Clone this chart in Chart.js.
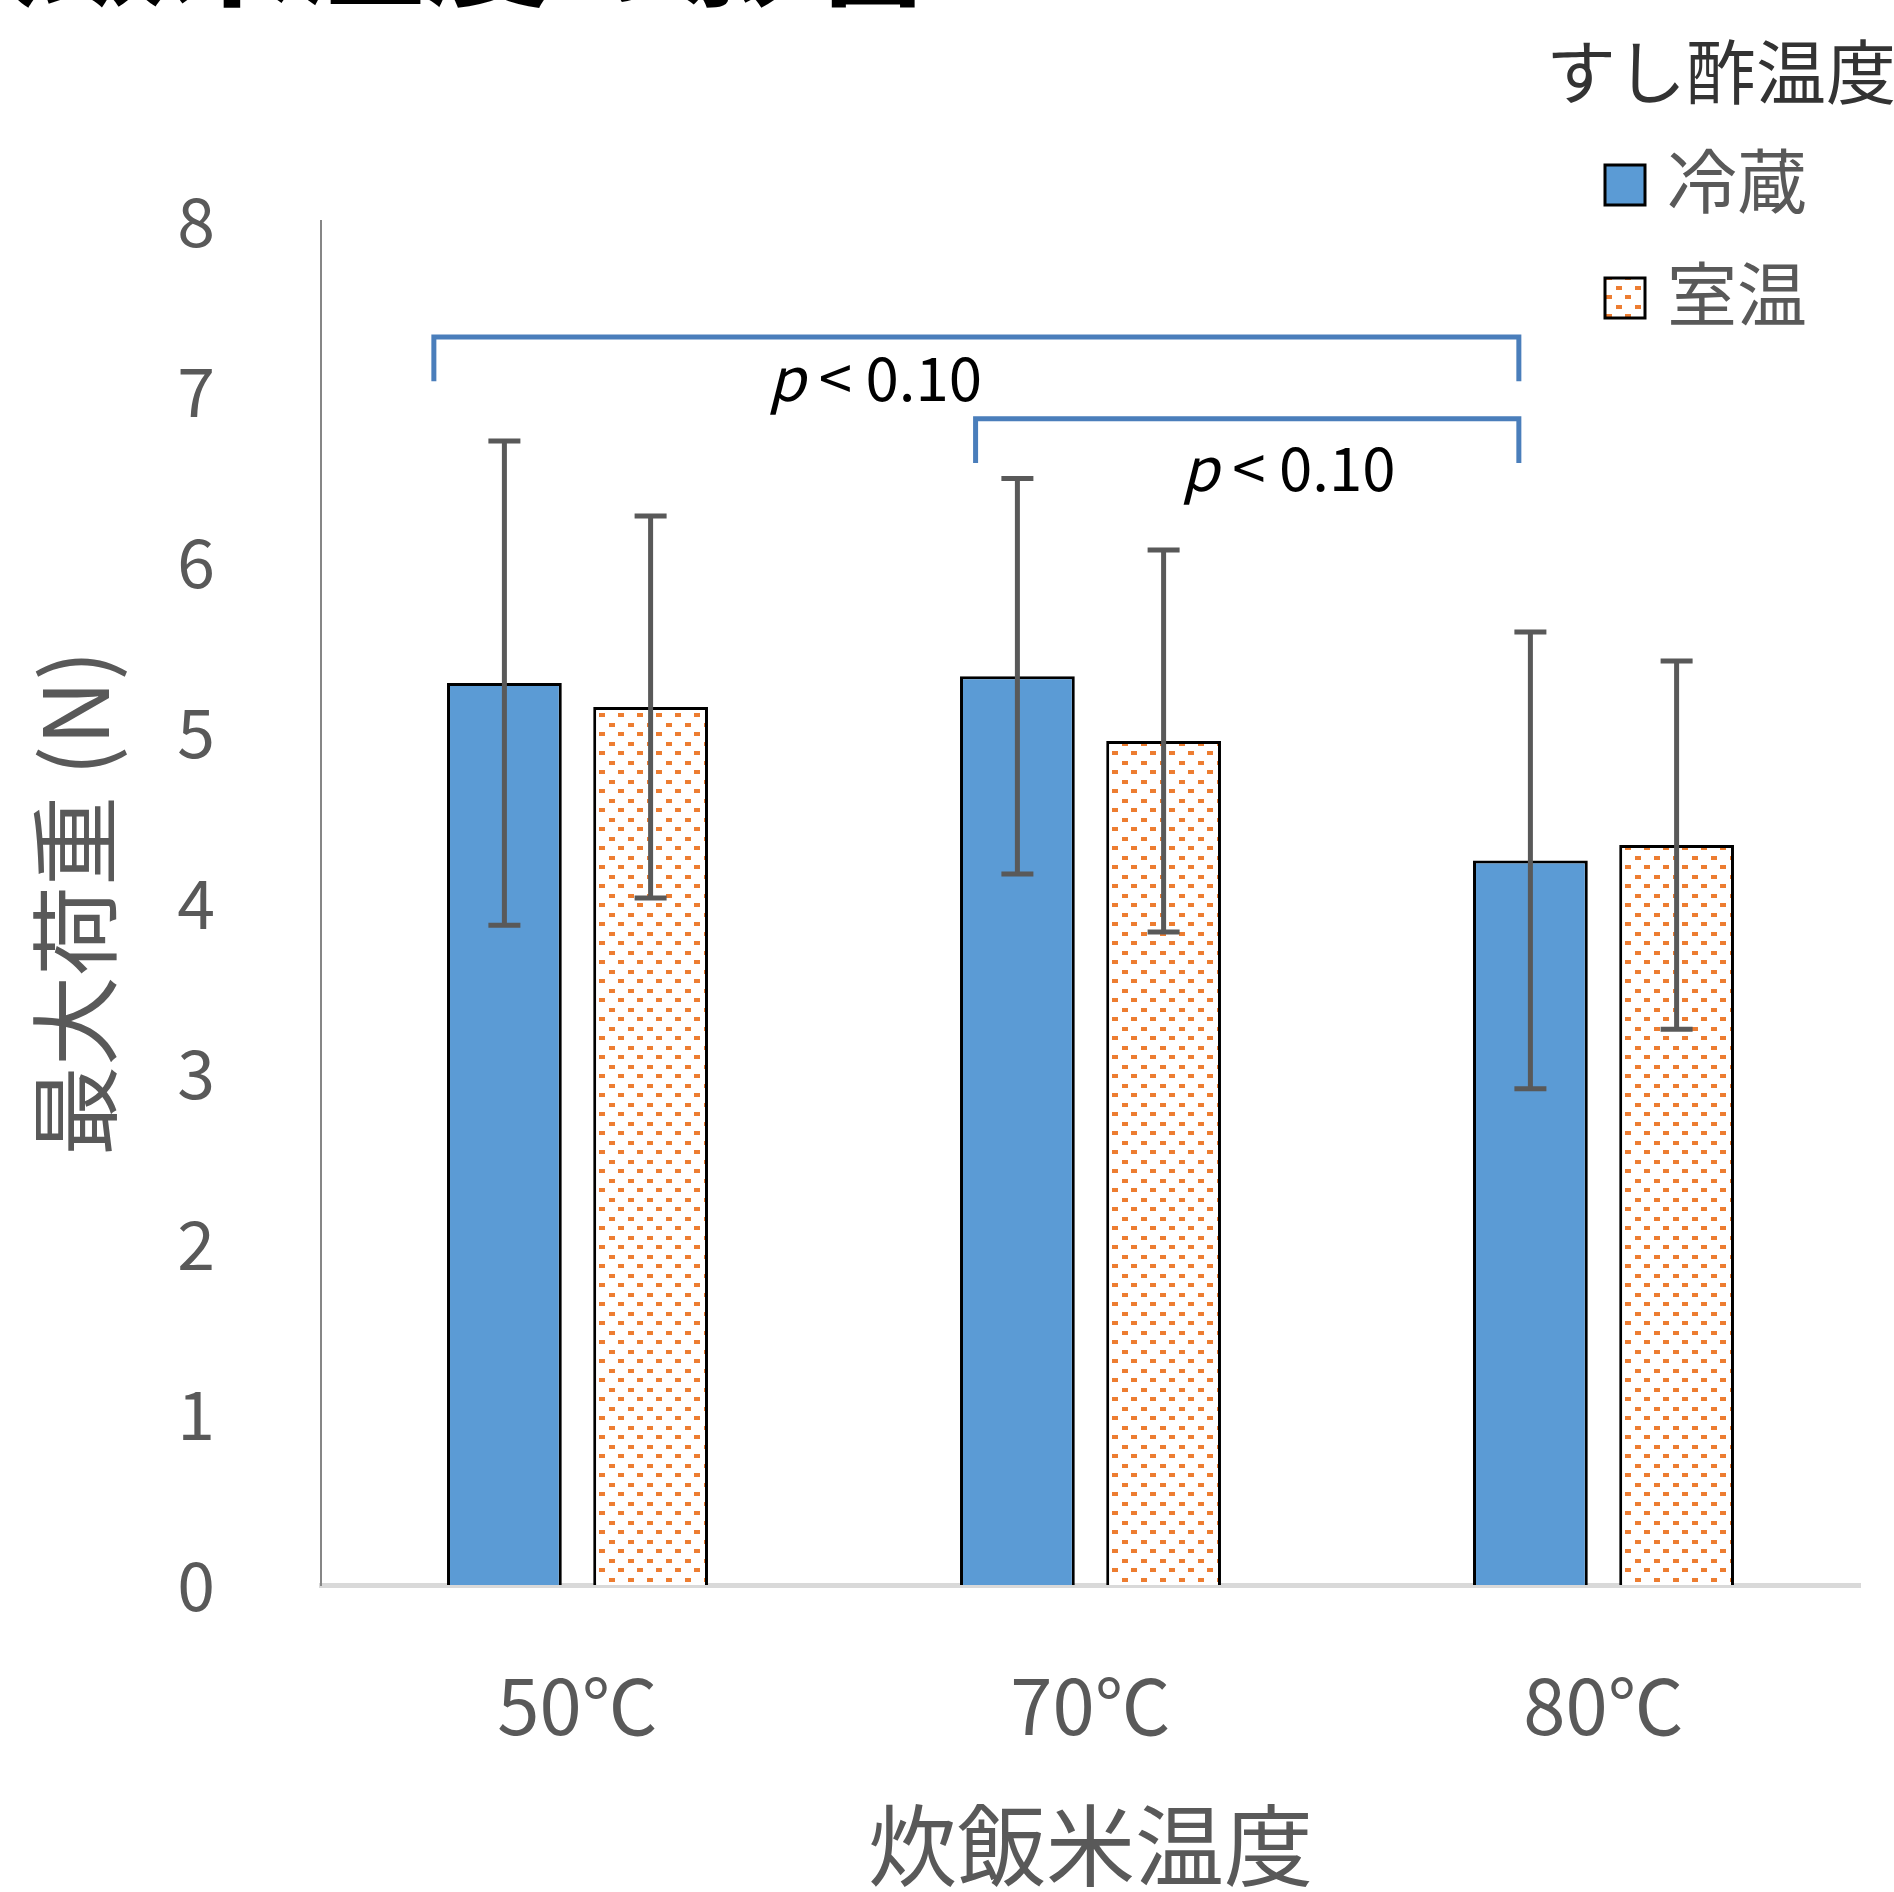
<!DOCTYPE html>
<html>
<head>
<meta charset="utf-8">
<script src="https://cdn.jsdelivr.net/npm/chart.js@4.4.0/dist/chart.umd.min.js"></script>
<style>
  html, body { margin: 0; padding: 0; background: #fff; }
</style>
</head>
<body>
<canvas id="chart" width="1894" height="1892"></canvas>
<script>
const categories = ['50℃', '70℃', '80℃'];
const seriesNames = ['冷蔵', '室温'];
const coldValues = [5.29, 5.33, 4.25];
const coldErrors = [1.42, 1.16, 1.34];
const roomValues = [5.15, 4.95, 4.34];
const roomErrors = [1.12, 1.12, 1.08];

// significance brackets, in category index / value units
const bracketFrom = [-0.28, 0.776];
const bracketTo = [1.835, 1.835];
const bracketLevel = [7.32, 6.84];
const bracketDrop = [7.06, 6.58];
const bracketTextX = [0.58, 1.386];
const bracketTextY = [7.08, 6.55];
const bracketText = ['< 0.10', '< 0.10'];

const FONT = '"Noto Sans CJK JP", "Noto Sans", sans-serif';

function dotPattern() {
    const c = document.createElement('canvas');
    c.width = 19;
    c.height = 19;
    const g = c.getContext('2d');
    g.fillStyle = '#ffffff';
    g.fillRect(0, 0, 19, 19);
    g.fillStyle = '#ed7d31';
    g.fillRect(1, 1, 6, 4);
    g.fillRect(10, 10, 6, 4);
    return g.createPattern(c, 'repeat');
}
const roomFill = dotPattern();

const overlayPlugin = {
    id: 'overlay',
    afterDatasetsDraw: (chart) => {
        const ctx = chart.ctx;
        const xs = chart.scales.x;
        const ys = chart.scales.y;
        const errs = [coldErrors, roomErrors];

        // error bars
        ctx.save();
        ctx.strokeStyle = '#595959';
        ctx.lineWidth = 5;
        chart.data.datasets.forEach((ds, di) => {
            chart.getDatasetMeta(di).data.forEach((bar, i) => {
                const v = ds.data[i];
                const top = ys.getPixelForValue(v + errs[di][i]);
                const bot = ys.getPixelForValue(v - errs[di][i]);
                ctx.beginPath();
                ctx.moveTo(bar.x, top);
                ctx.lineTo(bar.x, bot);
                ctx.moveTo(bar.x - 16, top);
                ctx.lineTo(bar.x + 16, top);
                ctx.moveTo(bar.x - 16, bot);
                ctx.lineTo(bar.x + 16, bot);
                ctx.stroke();
            });
        });

        // brackets
        ctx.strokeStyle = '#4a7ebb';
        ctx.lineWidth = 5;
        for (let i = 0; i < bracketFrom.length; i++) {
            const x1 = xs.getPixelForValue(bracketFrom[i]);
            const x2 = xs.getPixelForValue(bracketTo[i]);
            const yl = ys.getPixelForValue(bracketLevel[i]);
            const yd = ys.getPixelForValue(bracketDrop[i]);
            ctx.beginPath();
            ctx.moveTo(x1, yd);
            ctx.lineTo(x1, yl);
            ctx.lineTo(x2, yl);
            ctx.lineTo(x2, yd);
            ctx.stroke();

            const tx = xs.getPixelForValue(bracketTextX[i]);
            const ty = ys.getPixelForValue(bracketTextY[i]);
            ctx.fillStyle = '#000';
            ctx.textBaseline = 'middle';
            ctx.textAlign = 'left';
            ctx.font = 'italic 60px ' + FONT;
            const pw = ctx.measureText('p ').width;
            ctx.font = '60px ' + FONT;
            const rw = ctx.measureText(bracketText[i]).width;
            const left = tx - (pw + rw) / 2;
            ctx.font = 'italic 60px ' + FONT;
            ctx.fillText('p', left, ty);
            ctx.font = '60px ' + FONT;
            ctx.fillText(bracketText[i], left + pw, ty);
        }
        ctx.restore();
    },
    afterDraw: (chart) => {
        const ctx = chart.ctx;
        ctx.save();
        // cropped heading at the very top
        ctx.fillStyle = '#000';
        ctx.font = 'bold 128px ' + FONT;
        ctx.textAlign = 'left';
        ctx.textBaseline = 'alphabetic';
        ctx.fillText('炊飯米温度の影響', -88, -4);

        // legend
        ctx.font = '70px ' + FONT;
        ctx.textBaseline = 'middle';
        ctx.fillStyle = '#333333';
        ctx.fillText('すし酢温度', 1546, 72);
        const fills = ['#5b9bd5', roomFill];
        const rows = [185, 298];
        seriesNames.forEach((name, i) => {
            ctx.fillStyle = fills[i];
            ctx.fillRect(1605, rows[i] - 20, 40, 40);
            ctx.strokeStyle = '#000';
            ctx.lineWidth = 3;
            ctx.strokeRect(1605, rows[i] - 20, 40, 40);
            ctx.fillStyle = '#595959';
            ctx.fillText(name, 1667, rows[i] - 4);
        });
        ctx.restore();
    }
};

new Chart(document.getElementById('chart'), {
    type: 'bar',
    data: {
        labels: categories,
        datasets: [
            {
                label: seriesNames[0],
                data: coldValues,
                backgroundColor: '#5b9bd5',
                borderColor: '#000',
                borderWidth: 3,
                categoryPercentage: 0.57,
                barPercentage: 0.785
            },
            {
                label: seriesNames[1],
                data: roomValues,
                backgroundColor: roomFill,
                borderColor: '#000',
                borderWidth: 3,
                categoryPercentage: 0.57,
                barPercentage: 0.785
            }
        ]
    },
    options: {
        responsive: false,
        animation: false,
        layout: { padding: { top: 221, right: 34, left: 0, bottom: 0 } },
        plugins: {
            legend: { display: false },
            tooltip: { enabled: false }
        },
        scales: {
            x: {
                z: 1,
                grid: { display: false, drawTicks: false },
                border: { display: true, color: '#d9d9d9', width: 5 },
                ticks: { color: '#595959', font: { family: FONT, size: 76 }, padding: 76 },
                title: {
                    display: true,
                    text: '炊飯米温度',
                    color: '#595959',
                    font: { family: FONT, size: 89, lineHeight: 1 },
                    padding: { top: 0, bottom: 2 }
                },
                afterFit: (scale) => { scale.height = 307; }
            },
            y: {
                min: 0,
                max: 8,
                grid: { display: false, drawTicks: false },
                border: { display: true, color: '#868686', width: 2 },
                ticks: { stepSize: 1, color: '#595959', font: { family: FONT, size: 68 }, padding: 106 },
                title: {
                    display: true,
                    text: '最大荷重 (N)',
                    color: '#595959',
                    font: { family: FONT, size: 90, lineHeight: 1 },
                    padding: { top: 30, bottom: 0 }
                },
                afterFit: (scale) => { scale.width = 321; }
            }
        }
    },
    plugins: [overlayPlugin]
});
</script>
</body>
</html>
